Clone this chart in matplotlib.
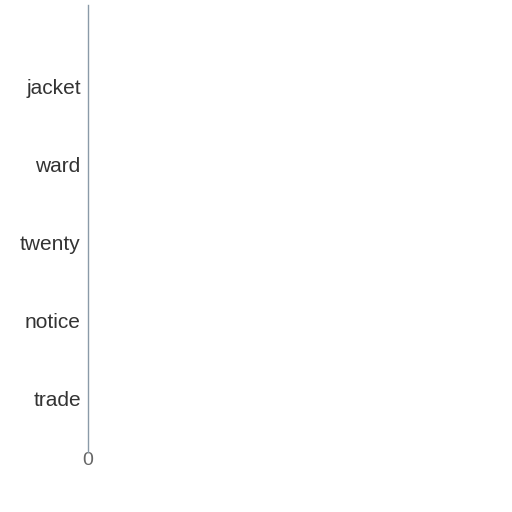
import matplotlib
matplotlib.use('Agg')
import matplotlib.pyplot as plt

categories = ['trade', 'notice', 'twenty', 'ward', 'jacket']
values = [0, 0, 0, 0, 0]
x_ticks = [0]

plt.rcParams['font.family'] = ['Liberation Sans', 'DejaVu Sans']

fig = plt.figure(figsize=(5.12, 5.12), dpi=100)
ax = fig.add_axes([88 / 512, 60 / 512, 1 - 88 / 512 - 0.01, 1 - 60 / 512 - 0.01])

for s in ['top', 'right', 'bottom']:
    ax.spines[s].set_visible(False)
ax.spines['left'].set_color('#8a9aa8')
ax.spines['left'].set_linewidth(1)

ax.barh(range(len(categories)), values, height=0.6, color='#4c78a8')
ax.set_yticks(range(len(categories)))
ax.set_yticklabels(categories, fontsize=15, color='#333333')
ax.set_ylim(-0.69, 5.05)
ax.set_xlim(0, 1)
ax.set_xticks(x_ticks)
ax.set_xticklabels([str(t) for t in x_ticks], fontsize=14, color='#666666')

ax.tick_params(axis='y', length=0, pad=5.2)
ax.tick_params(axis='x', length=0, pad=0)

fig.savefig('out.png', dpi=100)
